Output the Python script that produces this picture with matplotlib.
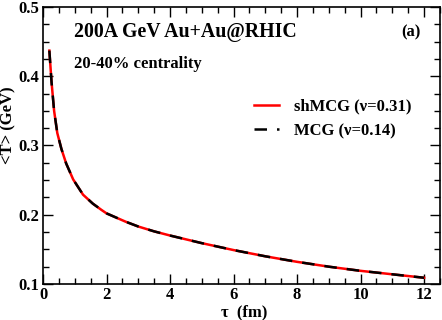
"""<T> vs tau for shMCG and MCG initial conditions."""

import matplotlib
matplotlib.use('Agg')
import matplotlib.pyplot as plt
from matplotlib.ticker import MultipleLocator

tau = [0.2, 0.27, 0.35, 0.45, 0.58, 0.73, 0.95, 1.26, 1.57, 1.84, 2.0,
       2.3, 2.6, 3.0, 3.5, 4.0, 5.0, 6.0, 7.0, 8.0, 9.0, 10.0, 11.0, 12.0]
T_shmcg = [0.437, 0.391, 0.350, 0.318, 0.295, 0.274, 0.251, 0.229, 0.216,
           0.207, 0.202, 0.196, 0.190, 0.183, 0.176, 0.170, 0.159, 0.149,
           0.140, 0.132, 0.125, 0.119, 0.114, 0.109]
T_mcg = list(T_shmcg)

W, H = 442., 320.

plt.rcParams['font.family'] = 'Liberation Serif'
plt.rcParams['font.weight'] = 'bold'

fig = plt.figure(figsize=(W/100, H/100), dpi=100)
ax = fig.add_axes([43/W, 1-284/H, 397/W, 277/H])

ax.plot(tau, T_shmcg, color='#ff0000', lw=1.8, label=u'shMCG (\u03bd=0.31)')
ax.plot(tau, T_mcg, color='black', lw=1.8, dashes=(5, 4),
        label=u'MCG (\u03bd=0.14)')

ax.set_xlim(0, 12.5)
ax.set_ylim(0.1, 0.5)
ax.xaxis.set_major_locator(MultipleLocator(2))
ax.xaxis.set_minor_locator(MultipleLocator(0.5))
ax.yaxis.set_major_locator(MultipleLocator(0.1))
ax.yaxis.set_minor_locator(MultipleLocator(0.025))
ax.tick_params(which='both', direction='in', top=True, right=True,
               labelsize=12, width=1)
ax.tick_params(which='major', length=7)
ax.tick_params(which='minor', length=4)
ax.tick_params(axis='y', pad=3)
ax.tick_params(axis='x', pad=2)
ax.xaxis.set_major_formatter(plt.FuncFormatter(lambda v, p: '%d' % v))
ax.yaxis.set_major_formatter(plt.FuncFormatter(lambda v, p: '%.1f' % v))
for s in ax.spines.values():
    s.set_linewidth(1.2)

fig.text(244/W, 1-312/H, u'\u03c4  (fm)', fontsize=12, fontweight='bold',
         ha='center', va='center')
fig.text(8/W, 1-125/H, '<T> (GeV)', fontsize=12, fontweight='bold',
         ha='center', va='center', rotation=90)

fig.text(74/W, 1-32/H, '200A GeV Au+Au@RHIC', fontsize=14.3,
         fontweight='bold', va='center')
fig.text(74/W, 1-64/H, '20-40% centrality', fontsize=12,
         fontweight='bold', va='center')
fig.text(421/W, 1-32/H, '(a)', fontsize=12, fontweight='bold',
         va='center', ha='right')

leg = ax.legend(loc='center left', bbox_to_anchor=(254/W, 1-119/H),
                bbox_transform=fig.transFigure, frameon=False, fontsize=12,
                borderpad=0, borderaxespad=0, handlelength=1.5,
                handletextpad=0.9, labelspacing=0.5)

fig.savefig('out.png', dpi=100)
